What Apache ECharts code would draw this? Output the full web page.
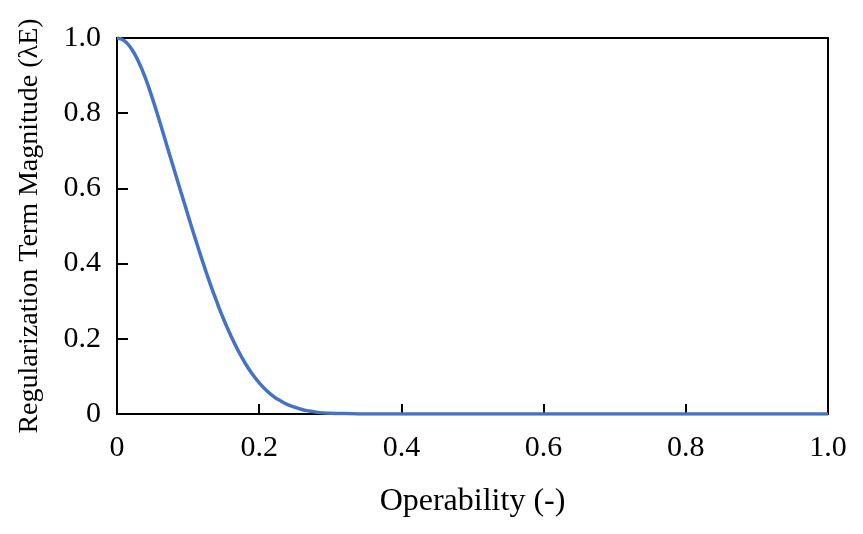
<!DOCTYPE html>
<html>
<head>
<meta charset="utf-8">
<script src="https://cdn.jsdelivr.net/npm/echarts@6/dist/echarts.min.js"></script>
<style>
  html, body { margin: 0; padding: 0; background: #fff; }
  #chart { width: 863px; height: 534px; }
</style>
</head>
<body>
<div id="chart"></div>
<script>
// operability (x) and regularization term magnitude (y)
const operability = [0, 0.01, 0.02, 0.03, 0.04, 0.05, 0.06, 0.07, 0.08, 0.09,
  0.10, 0.11, 0.12, 0.13, 0.14, 0.15, 0.16, 0.17, 0.18, 0.19,
  0.20, 0.21, 0.22, 0.23, 0.24, 0.25, 0.26, 0.27, 0.28, 0.29,
  0.30, 0.32, 0.35, 0.4, 0.5, 0.6, 0.7, 0.8, 0.9, 1.0]
const magnitude = [1.0, 0.993, 0.972, 0.938, 0.893, 0.838, 0.778, 0.715, 0.652, 0.59,
  0.528, 0.467, 0.408, 0.352, 0.30, 0.252, 0.209, 0.17, 0.136, 0.107,
  0.083, 0.063, 0.047, 0.035, 0.025, 0.018, 0.012, 0.008, 0.005, 0.003,
  0.002, 0.001, 0, 0, 0, 0, 0, 0, 0, 0]

const tickFmt = v => (v === 0 ? '0' : v.toFixed(1))
const serif = 'Liberation Serif'

function regularization() {
  const option = {
    animation: false,
    grid: {
      left: 117,
      top: 38,
      right: 35,
      bottom: 120,
      show: true,
      borderColor: '#000',
      borderWidth: 2,
    },
    xAxis: {
      type: 'value',
      min: 0,
      max: 1,
      interval: 0.2,
      name: 'Operability (-)',
      nameLocation: 'middle',
      nameGap: 72,
      nameTextStyle: { fontFamily: serif, fontSize: 32, color: '#000' },
      axisLine: { lineStyle: { color: '#000', width: 2 } },
      axisTick: { inside: true, length: 10, lineStyle: { color: '#000', width: 2 } },
      axisLabel: { formatter: tickFmt, fontFamily: serif, fontSize: 30, color: '#000', margin: 19 },
      splitLine: { show: false },
    },
    yAxis: {
      type: 'value',
      min: 0,
      max: 1,
      interval: 0.2,
      name: 'Regularization Term Magnitude (λE)',
      nameLocation: 'middle',
      nameGap: 73,
      nameTextStyle: { fontFamily: serif, fontSize: 28, color: '#000' },
      axisLine: { lineStyle: { color: '#000', width: 2 } },
      axisTick: { inside: true, length: 11, lineStyle: { color: '#000', width: 2 } },
      axisLabel: { formatter: tickFmt, fontFamily: serif, fontSize: 30, color: '#000', margin: 16 },
      splitLine: { show: false },
    },
    series: [
      {
        type: 'line',
        data: operability.map((x, i) => [x, magnitude[i]]),
        smooth: true,
        showSymbol: false,
        lineStyle: { color: '#4472C4', width: 3.5 },
      },
    ],
  }

  var myChart = echarts.init(document.getElementById('chart'))
  myChart.setOption(option)
}

regularization()
</script>
</body>
</html>
